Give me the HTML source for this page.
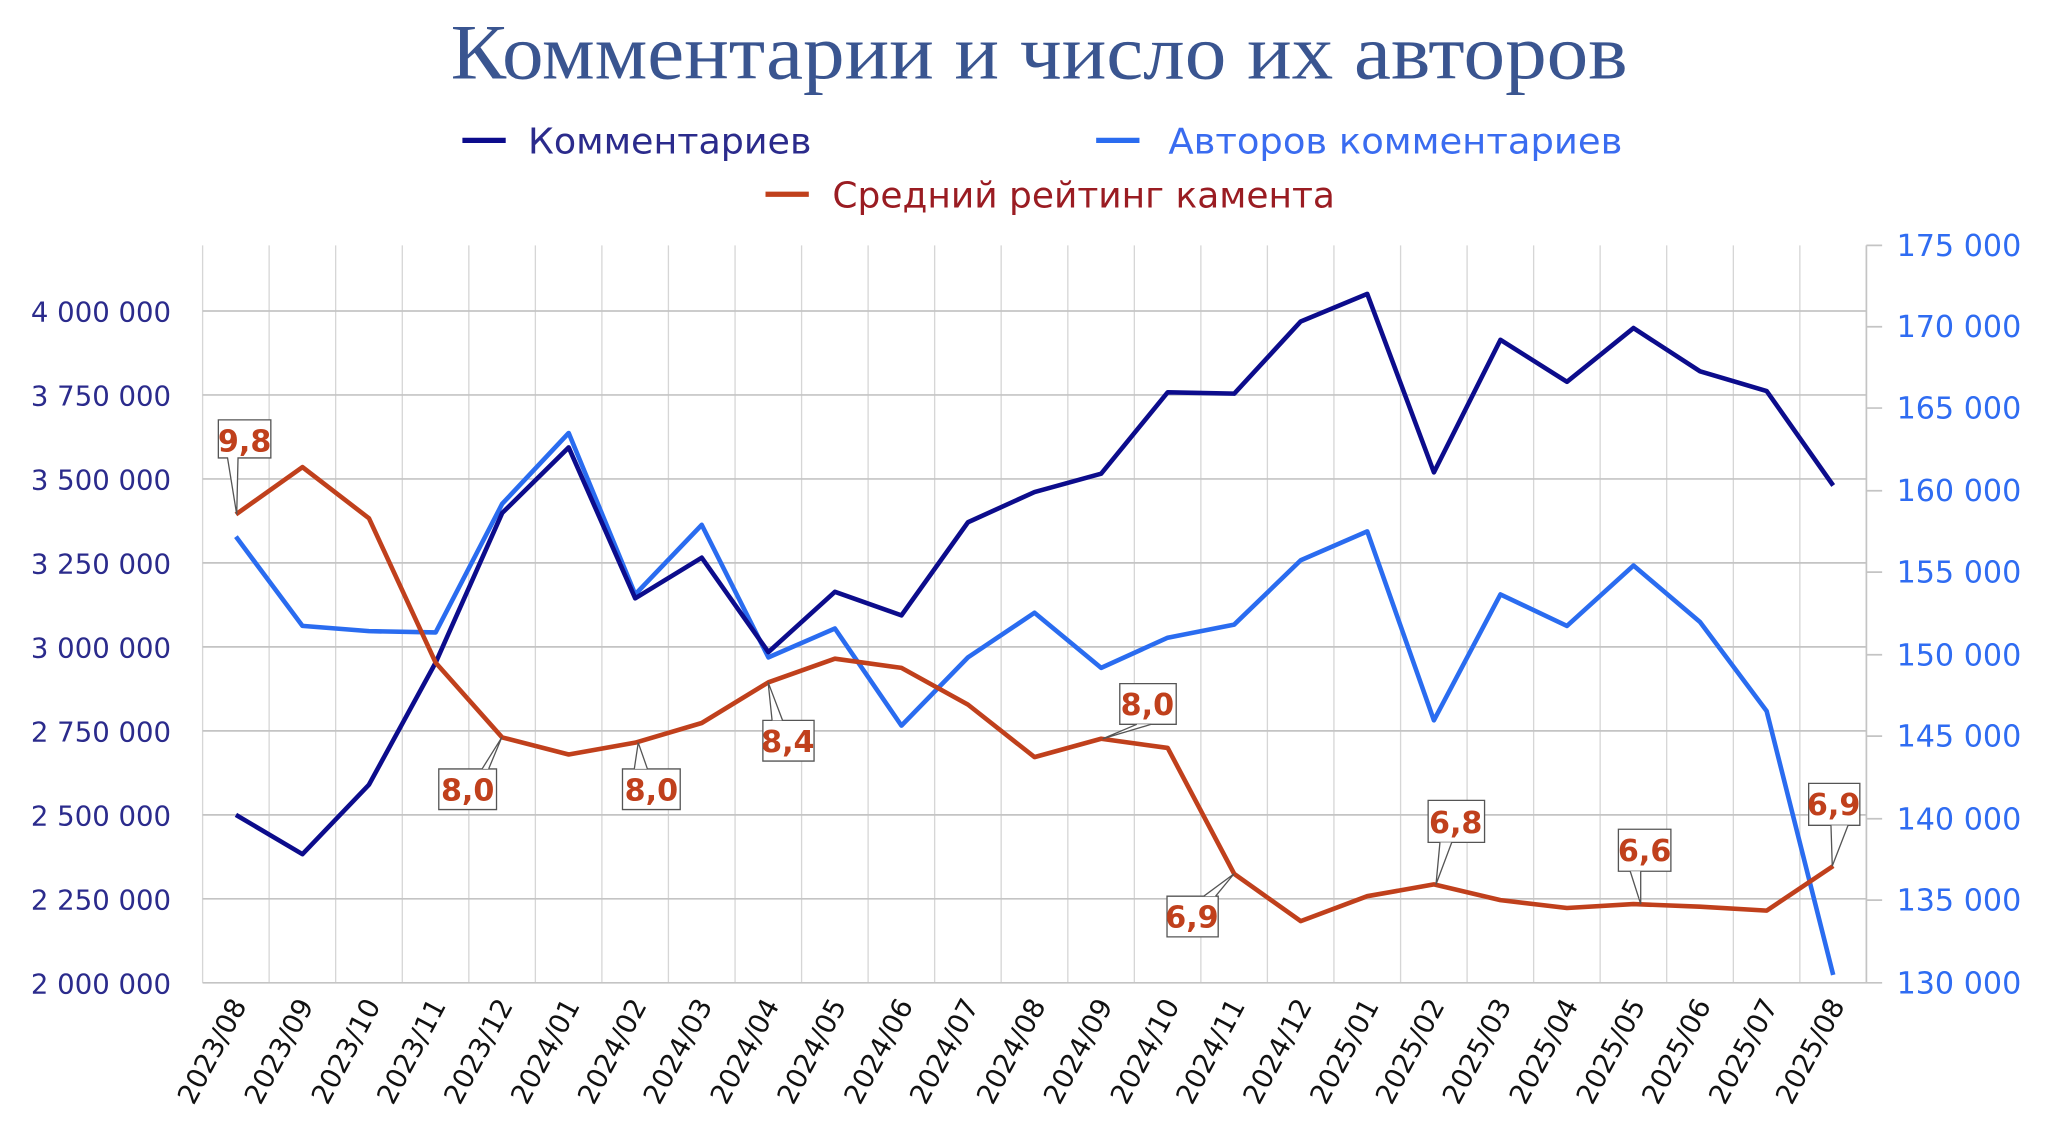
<!DOCTYPE html>
<html><head><meta charset="utf-8"><style>
html,body{margin:0;padding:0;background:#fff;}
svg{display:block;}
text{font-family:"DejaVu Sans","Liberation Sans",sans-serif;}
</style></head><body>
<svg width="2048" height="1135" viewBox="0 0 1560 865" xmlns="http://www.w3.org/2000/svg">
<rect width="1560" height="865" fill="#fff"/>
<text x="343" y="60" textLength="897" lengthAdjust="spacingAndGlyphs" style="font-family:'Liberation Serif','DejaVu Serif',serif" font-size="60" fill="#3a5590">Комментарии и число их авторов</text>
<line x1="352" y1="107" x2="385" y2="107" stroke="#0c0c8c" stroke-width="4"/>
<text x="402" y="117" font-size="27" fill="#2b2b8c" textLength="216" lengthAdjust="spacingAndGlyphs">Комментариев</text>
<line x1="835" y1="107" x2="868" y2="107" stroke="#2a6cf0" stroke-width="4"/>
<text x="890" y="117" font-size="27" fill="#3a6cf0" textLength="346" lengthAdjust="spacingAndGlyphs">Авторов комментариев</text>
<line x1="583" y1="148" x2="616" y2="148" stroke="#c0401c" stroke-width="4"/>
<text x="634" y="158" font-size="27" fill="#9a1c22" textLength="383" lengthAdjust="spacingAndGlyphs">Средний рейтинг камента</text>
<g stroke="#d6d6d6" stroke-width="1">
<line x1="154" y1="187" x2="154" y2="749"/><line x1="204.7" y1="187" x2="204.7" y2="749"/><line x1="255.4" y1="187" x2="255.4" y2="749"/><line x1="306.2" y1="187" x2="306.2" y2="749"/><line x1="356.9" y1="187" x2="356.9" y2="749"/><line x1="407.6" y1="187" x2="407.6" y2="749"/><line x1="458.3" y1="187" x2="458.3" y2="749"/><line x1="509" y1="187" x2="509" y2="749"/><line x1="559.8" y1="187" x2="559.8" y2="749"/><line x1="610.5" y1="187" x2="610.5" y2="749"/><line x1="661.2" y1="187" x2="661.2" y2="749"/><line x1="711.9" y1="187" x2="711.9" y2="749"/><line x1="762.6" y1="187" x2="762.6" y2="749"/><line x1="813.4" y1="187" x2="813.4" y2="749"/><line x1="864.1" y1="187" x2="864.1" y2="749"/><line x1="914.8" y1="187" x2="914.8" y2="749"/><line x1="965.5" y1="187" x2="965.5" y2="749"/><line x1="1016.2" y1="187" x2="1016.2" y2="749"/><line x1="1067" y1="187" x2="1067" y2="749"/><line x1="1117.7" y1="187" x2="1117.7" y2="749"/><line x1="1168.4" y1="187" x2="1168.4" y2="749"/><line x1="1219.1" y1="187" x2="1219.1" y2="749"/><line x1="1269.8" y1="187" x2="1269.8" y2="749"/><line x1="1320.6" y1="187" x2="1320.6" y2="749"/><line x1="1371.3" y1="187" x2="1371.3" y2="749"/>
</g>
<g stroke="#c4c4c4" stroke-width="1.3">
<line x1="154" y1="237" x2="1422" y2="237"/><line x1="154" y1="301" x2="1422" y2="301"/><line x1="154" y1="365" x2="1422" y2="365"/><line x1="154" y1="429" x2="1422" y2="429"/><line x1="154" y1="493" x2="1422" y2="493"/><line x1="154" y1="557" x2="1422" y2="557"/><line x1="154" y1="621" x2="1422" y2="621"/><line x1="154" y1="685" x2="1422" y2="685"/><line x1="154" y1="749" x2="1434" y2="749"/>
<line x1="1422" y1="187" x2="1422" y2="749"/>
<line x1="1422" y1="187" x2="1434" y2="187"/><line x1="1422" y1="249" x2="1434" y2="249"/><line x1="1422" y1="311" x2="1434" y2="311"/><line x1="1422" y1="374" x2="1434" y2="374"/><line x1="1422" y1="436" x2="1434" y2="436"/><line x1="1422" y1="499" x2="1434" y2="499"/><line x1="1422" y1="561" x2="1434" y2="561"/><line x1="1422" y1="624" x2="1434" y2="624"/><line x1="1422" y1="686" x2="1434" y2="686"/>
</g>
<g font-size="21" fill="#2b2b8c" text-anchor="end">
<text x="130" y="245">4 000 000</text><text x="130" y="309">3 750 000</text><text x="130" y="373">3 500 000</text><text x="130" y="437">3 250 000</text><text x="130" y="501">3 000 000</text><text x="130" y="565">2 750 000</text><text x="130" y="629">2 500 000</text><text x="130" y="693">2 250 000</text><text x="130" y="757">2 000 000</text>
</g>
<g font-size="23" fill="#2f6cf2" text-anchor="start">
<text x="1445" y="195">175 000</text><text x="1445" y="257">170 000</text><text x="1445" y="319">165 000</text><text x="1445" y="382">160 000</text><text x="1445" y="444">155 000</text><text x="1445" y="507">150 000</text><text x="1445" y="569">145 000</text><text x="1445" y="632">140 000</text><text x="1445" y="694">135 000</text><text x="1445" y="757">130 000</text>
</g>
<g font-size="21" fill="#111" text-anchor="end">
<text transform="translate(188,766) rotate(-62)">2023/08</text>
<text transform="translate(239,766) rotate(-62)">2023/09</text>
<text transform="translate(290,766) rotate(-62)">2023/10</text>
<text transform="translate(340,766) rotate(-62)">2023/11</text>
<text transform="translate(391,766) rotate(-62)">2023/12</text>
<text transform="translate(442,766) rotate(-62)">2024/01</text>
<text transform="translate(493,766) rotate(-62)">2024/02</text>
<text transform="translate(543,766) rotate(-62)">2024/03</text>
<text transform="translate(594,766) rotate(-62)">2024/04</text>
<text transform="translate(645,766) rotate(-62)">2024/05</text>
<text transform="translate(696,766) rotate(-62)">2024/06</text>
<text transform="translate(746,766) rotate(-62)">2024/07</text>
<text transform="translate(797,766) rotate(-62)">2024/08</text>
<text transform="translate(848,766) rotate(-62)">2024/09</text>
<text transform="translate(899,766) rotate(-62)">2024/10</text>
<text transform="translate(949,766) rotate(-62)">2024/11</text>
<text transform="translate(1000,766) rotate(-62)">2024/12</text>
<text transform="translate(1051,766) rotate(-62)">2025/01</text>
<text transform="translate(1101,766) rotate(-62)">2025/02</text>
<text transform="translate(1152,766) rotate(-62)">2025/03</text>
<text transform="translate(1203,766) rotate(-62)">2025/04</text>
<text transform="translate(1254,766) rotate(-62)">2025/05</text>
<text transform="translate(1304,766) rotate(-62)">2025/06</text>
<text transform="translate(1355,766) rotate(-62)">2025/07</text>
<text transform="translate(1406,766) rotate(-62)">2025/08</text>
</g>
<g fill="none" stroke-width="3.5" stroke-linejoin="round">
<polyline stroke="#2a6cf0" points="179.4,409 230.1,477 280.8,481 331.6,482 382.3,384 433,330 483.7,453 534.4,400 585.2,501 635.9,479 686.6,553 737.3,501 788,467 838.8,509 889.5,486 940.2,476 990.9,427 1041.6,405 1092.4,549 1143.1,453 1193.8,477 1244.5,431 1295.2,474 1346,542 1396.7,743"/>
<polyline stroke="#0c0c8c" points="179.4,621 230.1,651 280.8,598 331.6,505 382.3,391 433,341 483.7,456 534.4,425 585.2,497 635.9,451 686.6,469 737.3,398 788,375 838.8,361 889.5,299 940.2,300 990.9,245 1041.6,224 1092.4,360 1143.1,259 1193.8,291 1244.5,250 1295.2,283 1346,298 1396.7,370"/>
<polyline stroke="#c0401c" points="179.4,392 230.1,356 280.8,395 331.6,505 382.3,562 433,575 483.7,566 534.4,551 585.2,520 635.9,502 686.6,509 737.3,537 788,577 838.8,563 889.5,570 940.2,666 990.9,702 1041.6,683 1092.4,674 1143.1,686 1193.8,692 1244.5,689 1295.2,691 1346,694 1396.7,660"/>
</g>
<g stroke="#555" stroke-width="1" fill="#fff">
<path d="M166,320 H206 V349 H181 L180,392 L173,349 H166 Z"/>
<path d="M334,586 H378 V617 H334 Z"/><path d="M367,586 L382,562 L372,586" />
<path d="M474,586 H518 V617 H474 Z"/><path d="M483,586 L486,566 L493,586"/>
<path d="M581,549 H620 V580 H581 Z"/><path d="M588,549 L585,520 L596,549"/>
<path d="M853,521 H896 V552 H853 Z"/><path d="M866,552 L840,563 L877,552"/>
<path d="M889,683 H928 V714 H889 Z"/><path d="M917,683 L940,666 L926,683"/>
<path d="M1088,610 H1131 V642 H1088 Z"/><path d="M1097,642 L1094,674 L1106,642"/>
<path d="M1233,632 H1273 V664 H1233 Z"/><path d="M1250,664 L1250,689 L1242,664"/>
<path d="M1378,597 H1417 V629 H1378 Z"/><path d="M1395,629 L1396,660 L1408,629"/>
</g>
<g font-size="23" font-weight="bold" fill="#c0401c" text-anchor="middle">
<text x="186" y="344">9,8</text><text x="356" y="610">8,0</text><text x="496" y="610">8,0</text><text x="600" y="573">8,4</text><text x="874" y="545">8,0</text><text x="908" y="707">6,9</text><text x="1109" y="635">6,8</text><text x="1253" y="656">6,6</text><text x="1397" y="621">6,9</text>
</g>
</svg>
</body></html>
